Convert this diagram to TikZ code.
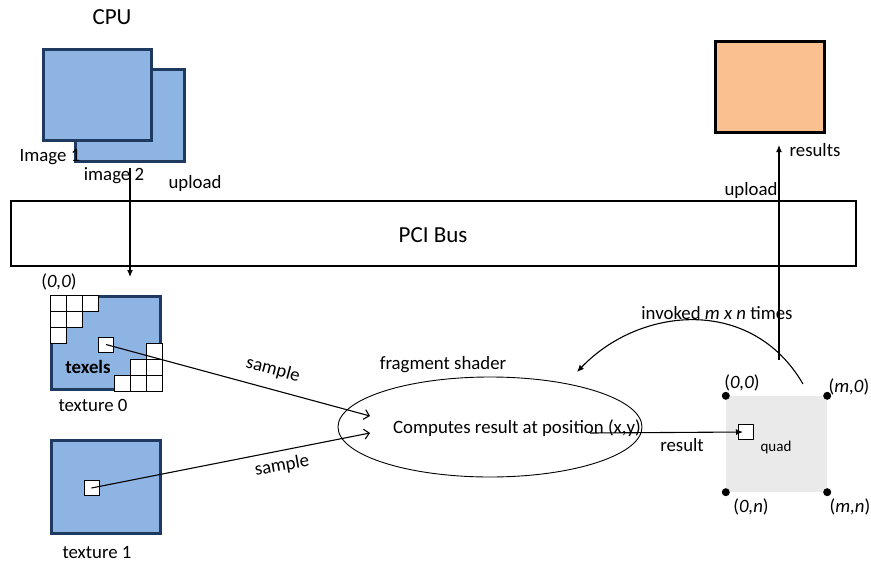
\documentclass[tikz,border=0pt]{standalone}
\usepackage{fontspec}
\setmainfont{Carlito}
\usetikzlibrary{arrows.meta,shapes.geometric}
\definecolor{navyedge}{HTML}{1F3A60}
\definecolor{skyfill}{HTML}{8EB4E3}
\definecolor{peach}{HTML}{FAC090}
\definecolor{quadgray}{HTML}{EAEAEA}

\begin{document}
\begin{tikzpicture}[x=1pt,y=-1pt,
  every node/.style={font=\fontsize{18.8}{20}\selectfont, inner sep=0pt},
  bluebox/.style={draw=navyedge, fill=skyfill, line width=3pt, minimum width=109pt, minimum height=93pt},
  texsq/.style={draw, fill=white, line width=0.7pt, minimum size=15pt},
  corner/.style={circle, fill=black, minimum size=8pt},
  farrow/.style={line width=1.1pt, -{Latex[length=7pt,width=6pt]}},
  sarrow/.style={line width=1.1pt, -{Straight Barb[length=5pt,width=10pt,line width=1.1pt]}},
]
\useasboundingbox (0,0) rectangle (871,565);

% host side: two images
\node at (112,17) {\fontsize{23}{25}\selectfont CPU};
\node[bluebox, minimum width=109pt, minimum height=92pt] (img2) at (130,115.5) {};
\node[bluebox, minimum width=108pt, minimum height=91pt] (img1) at (97.5,95) {};
\node (lbimg1) at (50,157) {Image 1};
\node (lbimg2) at (114,176) {image 2};
\node (lbupl) at (195,183) {upload};

% result buffer on the host
\node[draw, fill=peach, line width=3pt, minimum width=109pt, minimum height=91pt] (res) at (770,87) {};
\node (lbres) at (815,150) {results};
\node (lbupr) at (751,190) {upload};

% bus
\node[draw, line width=2.5pt, minimum width=845pt, minimum height=65pt] (bus) at (433.5,233.5) {};
\node (lbbus) at (433,235) {\fontsize{23}{25}\selectfont PCI Bus};

% texture 0 with its texel grid
\node[bluebox] (tex0) at (106,343) {};
\foreach \c/\r in {0/0,1/0,2/0,0/1,1/1,0/2,6/3,5/4,6/4,4/5,5/5,6/5}
  \draw[fill=white, line width=0.7pt] (50+16*\c, 295+16*\r) rectangle ++(16,16);
\node[texsq] (sq0) at (106,344.5) {};
\node (lbtexels) at (88,367) {\bfseries texels};
\node (lborig) at (59,282) {(\textit{0,0})};
\node (lbtex0) at (93,405) {texture 0};

% texture 1
\node[bluebox] (tex1) at (106,487) {};
\node[texsq] (sq1) at (91.5,488) {};
\node (lbtex1) at (97,553) {texture 1};

% fragment shader
\node[draw, ellipse, line width=0.9pt, minimum width=304pt, minimum height=100pt] (shader) at (490,427) {};
\node (lbshader) at (443,365) {fragment shader};
\node (compute) at (517,428) {Computes result at position (x,y)};

% output quad
\node[fill=quadgray, minimum width=101pt, minimum height=96pt] (quad) at (776.5,444) {};
\node[texsq] (qsq) at (746,432) {};
\node (lbquad) at (776,447) {\fontsize{15}{17}\selectfont quad};
\node[corner] (cnw) at (quad.north west) {};
\node[corner] (cne) at (quad.north east) {};
\node[corner] (csw) at (quad.south west) {};
\node[corner] (cse) at (quad.south east) {};
\node (lbnw) at (742,383) {(\textit{0,0})};
\node (lbne) at (849,387) {(\textit{m,0})};
\node (lbsw) at (751,507) {(\textit{0,n})};
\node (lbse) at (850,507) {(\textit{m,n})};

% connector end points
\coordinate (dnstart) at (130,168);
\coordinate (dntip) at (130,277);
\coordinate (upbot) at (779,360);
\coordinate (uptip) at (779,145);
\coordinate (in0) at (370,416);
\coordinate (in1) at (370,433);
\coordinate (resstart) at (590,433);
\coordinate (arcstart) at (803,384);
\coordinate (arcend) at (577,372);

% connectors
\draw[farrow] (dnstart) -- (dntip);
\draw[farrow] (upbot) -- (uptip);
\draw[sarrow] (sq0.center) -- (in0);
\draw[sarrow] (sq1.center) -- (in1);
\draw[farrow] (resstart) -- ([xshift=-3pt]qsq.center);
\draw[farrow] (arcstart) .. controls (752,296) and (640,306) .. (arcend);

% connector labels
\node[rotate=-15] (lbs0) at (273,370) {sample};
\node[rotate=10] (lbs1) at (282,466) {sample};
\node (lbresult) at (682,445) {result};
\node (lbinv) at (717,313) {invoked \textit{m x n} times};
\end{tikzpicture}
\end{document}
